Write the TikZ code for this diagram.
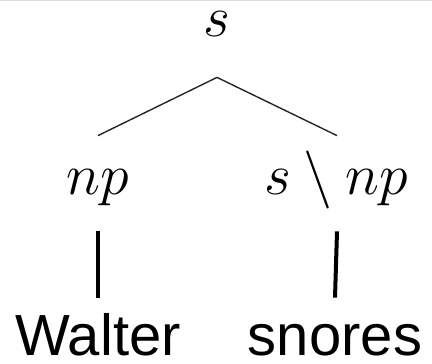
\RequirePackage{fix-cm}
\documentclass[tikz,border=0pt]{standalone}
\usepackage{amsmath,amssymb}
\usepackage{fontspec}
\usepackage{tikz}
\newfontfamily\wordfont{Liberation Sans}
\definecolor{rulegray}{HTML}{DEDEDE}

\begin{document}
\begin{tikzpicture}[x=0.5pt,y=-0.5pt,
  cat/.style={font=\fontsize{29}{34}\selectfont,inner sep=0pt,
    text height=12.5pt,text depth=7.25pt,anchor=base},
  word/.style={font=\wordfont\fontsize{29}{34}\selectfont,inner sep=0pt,
    text height=21.75pt,text depth=0pt,anchor=base},
  branch/.style={line width=0.7pt,black!85},
  lexbar/.style={line width=2pt}]
  \useasboundingbox (0,0) rectangle (432,363);
  % frame edge at the top
  \draw[rulegray,line width=0.5pt] (0,0.5) -- (432,0.5);
  % categories
  \node[cat] (root) at (217,37) {$s$};
  \node[cat] (subj) at (98,194) {$np$};
  \node[cat] (verb) at (336,194) {$s \setminus np$};
  % words
  \node[word] (walter) at (98,355) {Walter};
  \node[word] (snores) at (335,355) {snores};
  % branches
  \draw[branch] ([yshift=-12.75pt]root.south) -- ([yshift=16.5pt]subj.north);
  \draw[branch] ([yshift=-12.75pt]root.south) -- ([xshift=0.5pt,yshift=16.5pt]verb.north);
  % lexical links
  \draw[lexbar] ([yshift=-11.25pt]subj.south) -- ([yshift=6.75pt]walter.north);
  \draw[lexbar] ([xshift=0.5pt,yshift=-11.25pt]verb.south) -- ([yshift=6.75pt]snores.north);
\end{tikzpicture}
\end{document}
